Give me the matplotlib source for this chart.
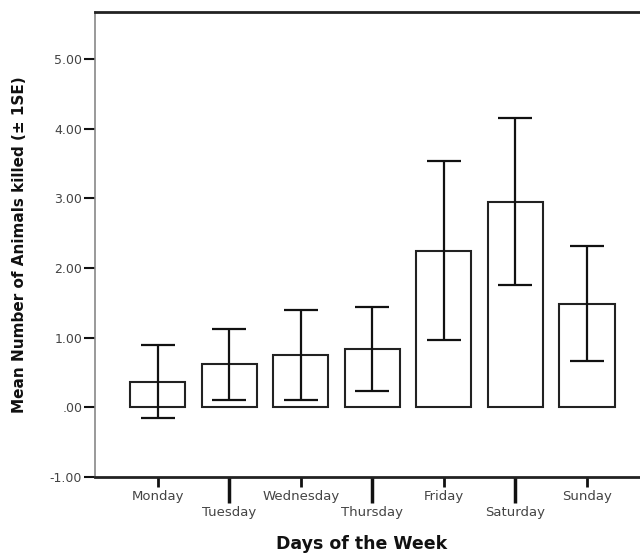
import matplotlib
matplotlib.use("Agg")
import matplotlib.pyplot as plt
import numpy as np

days = ["Monday", "Tuesday", "Wednesday", "Thursday", "Friday", "Saturday", "Sunday"]
means = [0.37, 0.62, 0.75, 0.84, 2.25, 2.95, 1.49]
se = [0.52, 0.51, 0.65, 0.60, 1.29, 1.20, 0.83]
yticks = [-1.0, 0.0, 1.0, 2.0, 3.0, 4.0, 5.0]
ytick_labels = ["-1.00", ".00", "1.00", "2.00", "3.00", "4.00", "5.00"]

plt.rcParams['font.family'] = ['DejaVu Sans']

fig = plt.figure(figsize=(6.4, 5.56), dpi=100)
ax = fig.add_axes([0.148, 0.142, 0.852, 0.836])

x = np.arange(len(days))
ax.bar(x, means, width=0.77, facecolor="white", edgecolor="#222222", linewidth=1.5, zorder=2)
ax.errorbar(x, means, yerr=se, fmt="none", ecolor="#111111", elinewidth=1.6,
            capsize=12, capthick=1.6, zorder=3)

ax.set_xlim(-0.88, 6.74)
ax.set_ylim(-1.0, 5.67)

ax.set_yticks(yticks)
ax.set_yticklabels(ytick_labels, fontsize=9, color="#444444")
ax.tick_params(axis="y", direction="out", length=8, width=1.5, color="#111111", pad=1)

major_idx = [0, 2, 4, 6]
minor_idx = [1, 3, 5]
ax.set_xticks([x[i] for i in major_idx])
ax.set_xticklabels([days[i] for i in major_idx], fontsize=9.5, color="#444444")
ax.set_xticks([x[i] for i in minor_idx], minor=True)
ax.set_xticklabels([days[i] for i in minor_idx], minor=True, fontsize=9.5, color="#444444")
ax.tick_params(axis="x", which="major", direction="out", length=7, width=2, color="#111111", pad=2)
ax.tick_params(axis="x", which="minor", direction="out", length=19, width=2.5, color="#111111", pad=2)

ax.spines["right"].set_visible(False)
ax.spines["top"].set_linewidth(2)
ax.spines["top"].set_color("#222222")
ax.spines["bottom"].set_linewidth(2)
ax.spines["bottom"].set_color("#222222")
ax.spines["left"].set_linewidth(1.2)
ax.spines["left"].set_color("#888888")

ax.set_xlabel("Days of the Week", fontsize=12.5, fontweight="bold", color="#111111")
ax.xaxis.set_label_coords(0.49, -0.125)
ax.set_ylabel("Mean Number of Animals killed (\u00b1 1SE)", fontsize=11, fontweight="bold", color="#111111")
ax.yaxis.set_label_coords(-0.138, 0.5)
ax.yaxis.label.set_va("center")

fig.savefig("out.png", dpi=100)
